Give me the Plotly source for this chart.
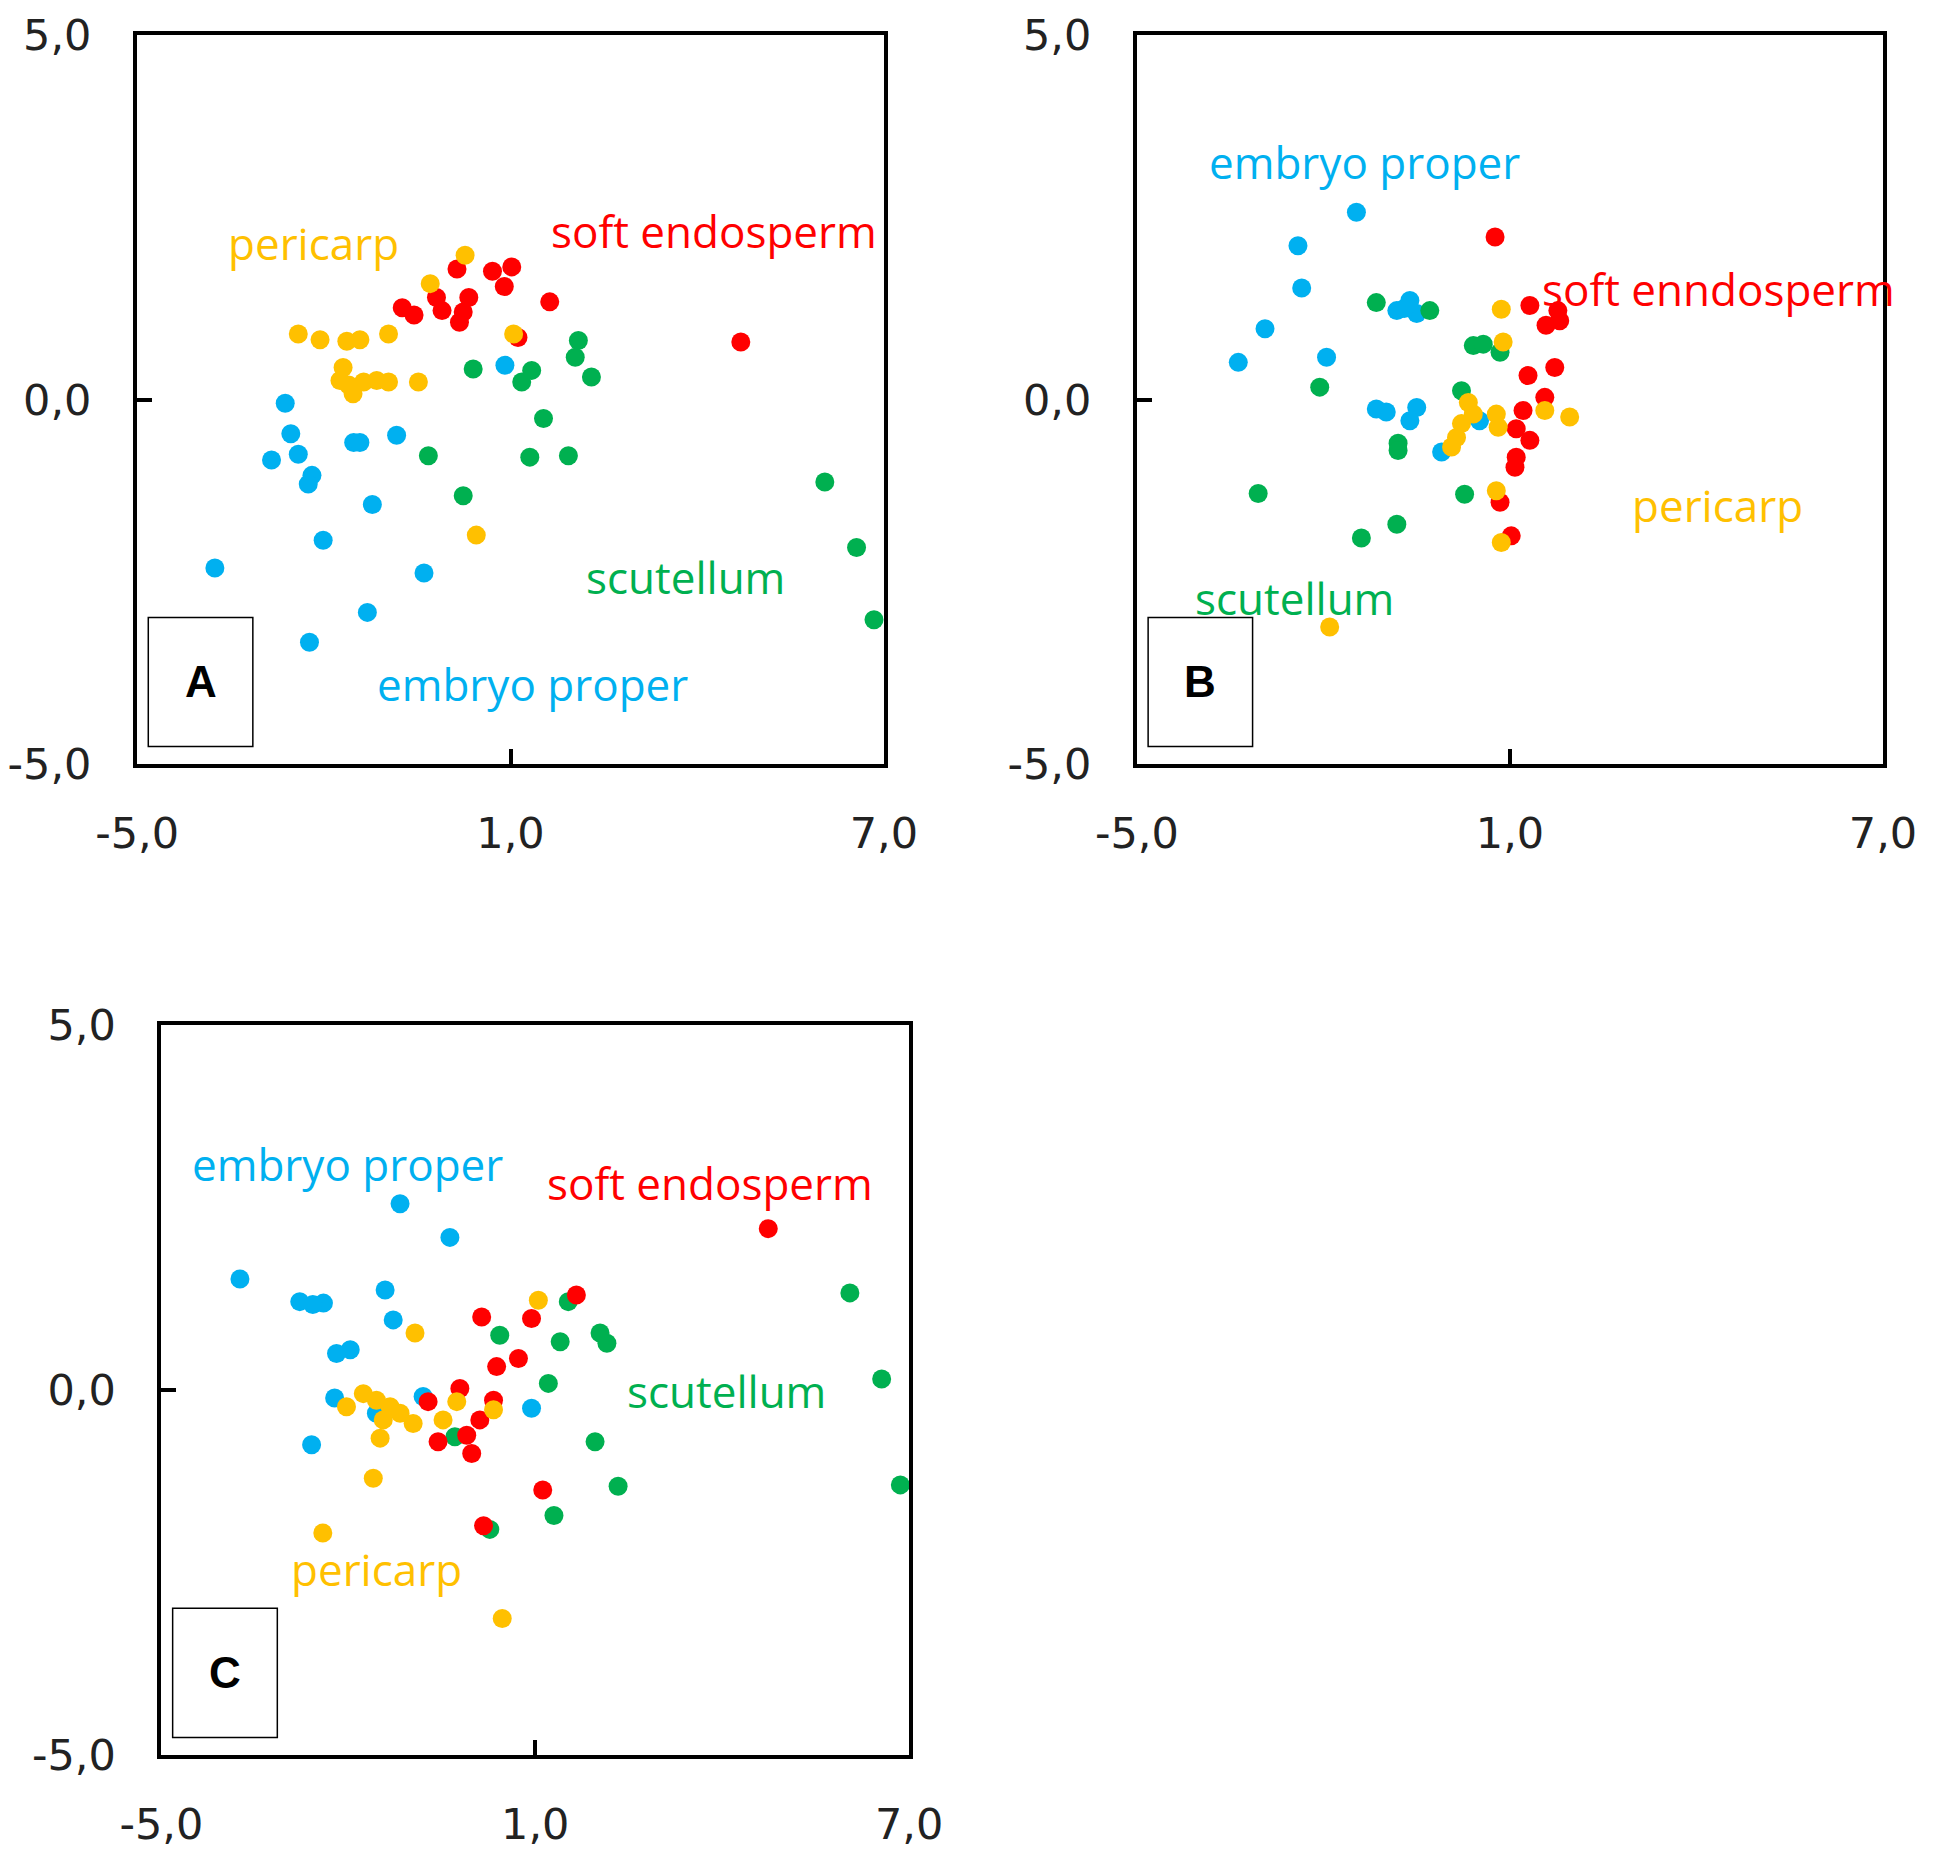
import plotly.graph_objects as go

# tissue colours (Excel-like palette)
BLUE = "#00B0F0"
GREEN = "#00B050"
RED = "#FF0000"
ORANGE = "#FFC000"

# ---- panel A ----
a_embryo_x = [-2.62, -2.53, -2.41, -2.84, -2.19, -2.25, -1.52, -1.42, -0.83, 0.91, -1.22, -2.01, -3.75, -0.39, -1.30, -2.23]
a_embryo_y = [-0.05, -0.47, -0.75, -0.83, -1.04, -1.16, -0.59, -0.59, -0.49, 0.47, -1.44, -1.93, -2.31, -2.38, -2.92, -3.33]
a_scut_x = [0.40, 1.18, 1.34, 2.09, 2.04, 2.30, 1.53, -0.32, 1.31, 1.93, 0.24, 6.05, 6.56, 6.84]
a_scut_y = [0.42, 0.24, 0.40, 0.81, 0.58, 0.31, -0.26, -0.77, -0.79, -0.77, -1.32, -1.13, -2.03, -3.02]
a_endo_x = [-0.74, -0.55, -0.19, -0.10, 0.14, 0.18, 0.33, 0.24, 0.71, 0.90, 1.02, 1.63, 1.12, 4.70]
a_endo_y = [1.26, 1.16, 1.40, 1.22, 1.79, 1.06, 1.40, 1.20, 1.76, 1.55, 1.82, 1.34, 0.85, 0.79]
a_peri_x = [0.27, -0.29, 1.05, -2.41, -2.06, -1.63, -1.42, -0.96, -1.69, -1.74, -1.53, -1.36, -1.15, -0.96, -1.60, -0.48, 0.45]
a_peri_y = [1.98, 1.59, 0.90, 0.90, 0.82, 0.80, 0.82, 0.90, 0.44, 0.26, 0.08, 0.24, 0.26, 0.24, 0.20, 0.24, -1.86]

# ---- panel B ----
b_embryo_x = [-1.47, -2.41, -2.35, -2.94, -3.37, -1.95, -0.82, -0.61, -0.50, -0.70, -1.15, -0.99, -0.50, -0.61, -0.10, 0.51]
b_embryo_y = [2.57, 2.11, 1.53, 0.97, 0.51, 0.58, 1.22, 1.36, 1.18, 1.25, -0.13, -0.17, -0.11, -0.29, -0.72, -0.29]
b_scut_x = [-1.15, -0.29, 0.41, 0.57, 0.84, -2.06, 0.22, -0.80, -0.80, -3.05, 0.27, -0.82, -1.39]
b_scut_y = [1.33, 1.22, 0.74, 0.76, 0.65, 0.17, 0.12, -0.60, -0.70, -1.29, -1.30, -1.71, -1.90]
b_endo_x = [0.76, 1.32, 1.77, 1.58, 1.80, 1.72, 1.29, 1.56, 1.21, 1.10, 1.32, 1.10, 1.08, 0.84, 1.02]
b_endo_y = [2.23, 1.29, 1.22, 1.02, 1.08, 0.44, 0.33, 0.03, -0.15, -0.40, -0.56, -0.79, -0.93, -1.41, -1.87]
b_peri_x = [0.86, 0.89, 0.33, 0.41, 0.22, 0.14, 0.06, 0.78, 0.81, 1.56, 1.96, 0.78, 0.86, -1.90]
b_peri_y = [1.24, 0.79, -0.04, -0.20, -0.33, -0.52, -0.65, -0.20, -0.38, -0.15, -0.24, -1.25, -1.96, -3.12]

# ---- panel C ----
c_embryo_x = [-1.17, -0.37, -3.74, -2.78, -2.40, -2.57, -1.41, -1.28, -2.19, -1.97, -2.22, -0.80, 0.94, -2.59, -1.55]
c_embryo_y = [2.55, 2.09, 1.52, 1.21, 1.19, 1.17, 1.37, 0.96, 0.50, 0.55, -0.11, -0.09, -0.25, -0.75, -0.32]
c_scut_x = [1.53, 0.43, 1.40, 2.04, 2.15, 1.21, -0.29, 1.96, 6.05, 6.56, 6.86, 2.33, 1.30, 0.27]
c_scut_y = [1.21, 0.75, 0.66, 0.78, 0.64, 0.09, -0.64, -0.71, 1.33, 0.15, -1.30, -1.32, -1.72, -1.91]
c_endo_x = [0.14, 0.94, 1.66, 0.38, 0.73, -0.72, -0.21, 0.33, 0.11, -0.56, -0.10, -0.02, 4.74, 1.12, 0.17]
c_endo_y = [1.00, 0.98, 1.30, 0.32, 0.43, -0.16, 0.02, -0.14, -0.41, -0.71, -0.62, -0.87, 2.21, -1.37, -1.86]
c_peri_x = [-0.93, 1.05, -2.03, -1.76, -1.55, -1.33, -1.17, -1.44, -0.96, -1.49, -0.26, -0.48, 0.33, -1.60, -2.41, 0.47]
c_peri_y = [0.78, 1.23, -0.23, -0.05, -0.14, -0.23, -0.32, -0.41, -0.46, -0.66, -0.16, -0.41, -0.27, -1.21, -1.96, -3.13]

# axis ticks
x_ticks = [-5, 1, 7]
x_ticktext = ["-5,0", "1,0", "7,0"]
y_ticks = [-5, 0, 5]
y_ticktext = ["-5,0", "0,0", "5,0"]

panels = [
    dict(name="A", xa="x", ya="y",
         data=[(a_embryo_x, a_embryo_y, BLUE), (a_scut_x, a_scut_y, GREEN),
               (a_endo_x, a_endo_y, RED), (a_peri_x, a_peri_y, ORANGE)],
         labels=[("pericarp", -2.17, 2.15, ORANGE), ("soft endosperm", 4.27, 2.31, RED),
                 ("scutellum", 3.81, -2.43, GREEN), ("embryo proper", 1.36, -3.90, BLUE)]),
    dict(name="B", xa="x2", ya="y2",
         data=[(b_embryo_x, b_embryo_y, BLUE), (b_scut_x, b_scut_y, GREEN),
               (b_endo_x, b_endo_y, RED), (b_peri_x, b_peri_y, ORANGE)],
         labels=[("embryo proper", -1.34, 3.26, BLUE), ("soft enndosperm", 4.35, 1.52, RED),
                 ("pericarp", 4.33, -1.44, ORANGE), ("scutellum", -2.47, -2.72, GREEN)]),
    dict(name="C", xa="x3", ya="y3",
         data=[(c_embryo_x, c_embryo_y, BLUE), (c_scut_x, c_scut_y, GREEN),
               (c_endo_x, c_endo_y, RED), (c_peri_x, c_peri_y, ORANGE)],
         labels=[("embryo proper", -2.01, 3.09, BLUE), ("soft endosperm", 3.81, 2.84, RED),
                 ("scutellum", 4.07, -0.02, GREEN), ("pericarp", -1.55, -2.45, ORANGE)]),
]

fig = go.Figure()
annotations = []
shapes = []

for p in panels:
    for xs, ys, col in p["data"]:
        fig.add_trace(go.Scatter(x=xs, y=ys, mode="markers", xaxis=p["xa"], yaxis=p["ya"],
                                 marker=dict(size=19, color=col), showlegend=False,
                                 cliponaxis=False))
    for txt, tx, ty, col in p["labels"]:
        annotations.append(dict(text=txt, x=tx, y=ty, xref=p["xa"], yref=p["ya"], showarrow=False,
                                font=dict(family="Open Sans", size=44, color=col)))
    # the little letter box in the lower left corner
    shapes.append(dict(type="rect", xref=p["xa"], yref=p["ya"], x0=-4.82, x1=-3.14, y0=-4.76, y1=-2.99,
                       line=dict(color="black", width=1.5), fillcolor="white", layer="below"))
    annotations.append(dict(text="<b>" + p["name"] + "</b>", x=-3.98, y=-3.87, xref=p["xa"], yref=p["ya"],
                            showarrow=False, font=dict(family="Liberation Sans", size=44, color="black")))

axis_common = dict(automargin=False, showgrid=False, zeroline=False, showline=True, mirror=True,
                   linecolor="black", linewidth=4, ticks="inside", ticklen=15, tickwidth=4,
                   tickcolor="black", tickfont=dict(family="DejaVu Sans", size=43, color="#222222"))

def xaxis(domain, anchor):
    d = dict(axis_common)
    d.update(range=[-5, 7], tickvals=x_ticks, ticktext=x_ticktext, domain=domain, anchor=anchor,
             ticklabelstandoff=28)
    return d

def yaxis(domain, anchor):
    d = dict(axis_common)
    d.update(range=[-5, 5], tickvals=y_ticks, ticktext=y_ticktext, domain=domain, anchor=anchor,
             ticklabelstandoff=33)
    return d

# page body keeps its default 8px margin, so the figure is a little smaller than the window
fig.update_layout(
    width=1918, height=1843,
    margin=dict(l=0, r=0, t=0, b=0),
    paper_bgcolor="white", plot_bgcolor="white",
    xaxis=xaxis([0.0673, 0.4567], "y"), yaxis=yaxis([0.5898, 0.9853], "x"),
    xaxis2=xaxis([0.5886, 0.9776], "y2"), yaxis2=yaxis([0.5898, 0.9853], "x2"),
    xaxis3=xaxis([0.0800, 0.4698], "y3"), yaxis3=yaxis([0.0521, 0.4482], "x3"),
    annotations=annotations, shapes=shapes,
)

fig.write_html("out.html")
